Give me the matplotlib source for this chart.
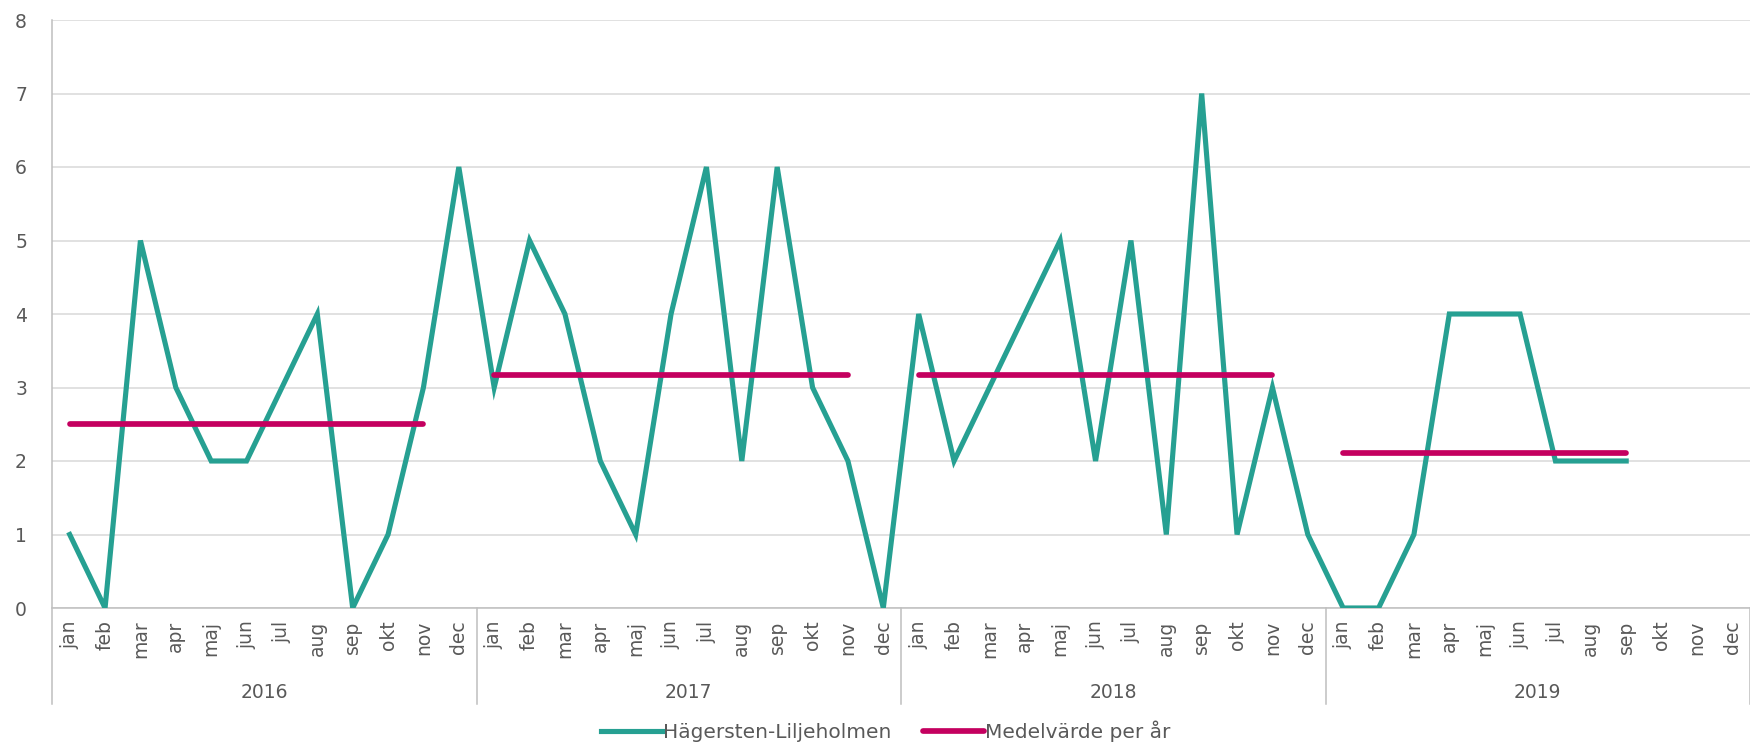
import matplotlib.pyplot as plt
import matplotlib.transforms as mtransforms
import numpy as np

plt.rcParams['font.family'] = ['DejaVu Sans']

# data
years = ['2016', '2017', '2018', '2019']
months = ['jan', 'feb', 'mar', 'apr', 'maj', 'jun',
          'jul', 'aug', 'sep', 'okt', 'nov', 'dec']
counts_2016 = [1, 0, 5, 3, 2, 2, 3, 4, 0, 1, 3, 6]
counts_2017 = [3, 5, 4, 2, 1, 4, 6, 2, 6, 3, 2, 0]
counts_2018 = [4, 2, 3, 4, 5, 2, 5, 1, 7, 1, 3, 1]
counts_2019 = [0, 0, 1, 4, 4, 4, 2, 2, 2]
yearly_mean = [2.5, 3.17, 3.17, 2.11]
mean_last_month = ['nov', 'nov', 'nov', 'sep']   # mean line runs jan .. this month

series_label = 'Hägersten-Liljeholmen'
mean_label = 'Medelvärde per år'

teal = '#26A092'
magenta = '#C4005F'
grey_txt = '#595959'
grid_col = '#D9D9D9'
line_col = '#BFBFBF'

counts = counts_2016 + counts_2017 + counts_2018 + counts_2019
n_total = len(years) * len(months)
x = np.arange(len(counts))

fig = plt.figure(figsize=(17.5, 7.45), dpi=100)
ax = fig.add_axes([52 / 1750, 1 - 608 / 745, 1 - 52 / 1750, (608 - 20) / 745])

ax.plot(x, counts, color=teal, lw=3.7, solid_joinstyle='miter', label=series_label, zorder=3)

for i, (m, last) in enumerate(zip(yearly_mean, mean_last_month)):
    start = i * len(months)
    end = start + months.index(last)
    ax.plot([start, end], [m, m], color=magenta, lw=4.1, solid_capstyle='round',
            label=mean_label if i == 0 else None, zorder=4)

ax.set_xlim(-0.5, n_total - 0.5)
ax.set_ylim(0, 8)
ax.set_yticks(range(0, 9))
ax.grid(axis='y', color=grid_col, lw=1.1)
ax.set_axisbelow(True)

for s in ['top', 'right', 'left']:
    ax.spines[s].set_visible(False)
ax.spines['bottom'].set_color(line_col)
ax.spines['bottom'].set_linewidth(1.1)

ax.set_xticks(list(range(n_total)))
ax.set_xticklabels(months * len(years), rotation=90, fontsize=13.5, color=grey_txt)
ax.tick_params(axis='x', length=0, pad=9)
ax.tick_params(axis='y', length=0, pad=18, labelsize=13.5, labelcolor=grey_txt)

# left edge line over full height, year separators only below the axis
trans = mtransforms.blended_transform_factory(ax.transData, ax.transAxes)
ax.plot([-0.5, -0.5], [1, -0.163], color=line_col, lw=1.1, transform=trans, clip_on=False)
for k in range(1, len(years) + 1):
    ax.plot([k * 12 - 0.5] * 2, [0, -0.163], color=line_col, lw=1.1,
            transform=trans, clip_on=False)
for k, yr in enumerate(years):
    ax.text(k * 12 + 5.5, -0.143, yr, transform=trans, ha='center', va='center',
            fontsize=13.5, color=grey_txt)

leg = fig.legend(loc='lower center', bbox_to_anchor=(0.506, -0.02), ncol=2,
                 frameon=False, fontsize=14.5, handlelength=3.0, handletextpad=0.05,
                 columnspacing=1.6)
for t in leg.get_texts():
    t.set_color(grey_txt)

fig.savefig('out.png', dpi=100)
